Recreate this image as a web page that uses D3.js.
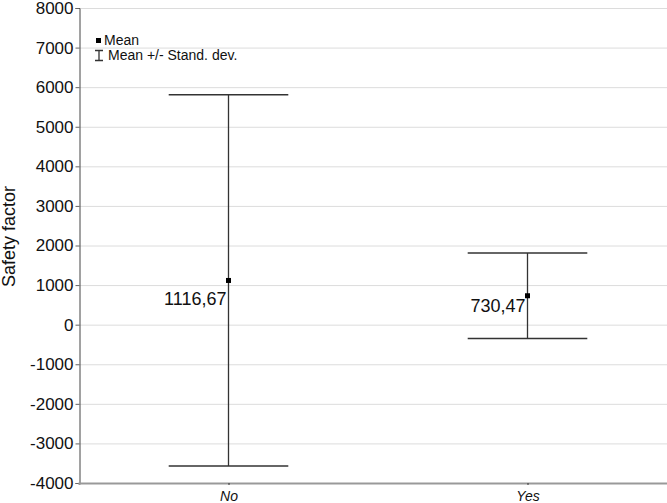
<!DOCTYPE html>
<html lang="en">
<head>
<meta charset="UTF-8">
<title>Safety factor</title>
<script src="https://cdn.jsdelivr.net/npm/d3@7"></script>
<style>
  body { margin: 0; background: #fff; }
  text { font-family: Arial, "Liberation Sans", sans-serif; }
</style>
</head>
<body>
<svg id="chart" width="667" height="503"></svg>
<script>
// data
const categories = ["No", "Yes"];
const means = [1116.67, 730.47];
const stdDevs = [4690, 1080];
const meanLabels = ["1116,67", "730,47"];
const yTicks = [-4000, -3000, -2000, -1000, 0, 1000, 2000, 3000, 4000, 5000, 6000, 7000, 8000];

const svg = d3.select("#chart");
const plotLeft = 79, plotTop = 8, plotBottom = 483, plotRight = 677;
const font = "Arial, 'Liberation Sans', sans-serif";

const x = d3.scalePoint().domain(categories).range([plotLeft, plotRight]).padding(0.5);
const y = d3.scaleLinear().domain([-4000, 8000]).range([plotBottom, plotTop]);
const capW = x.step() * 0.4;

// gridlines
svg.append("g").selectAll("line")
  .data(yTicks.filter(d => d > -4000))
  .join("line")
  .attr("x1", plotLeft).attr("x2", 667)
  .attr("y1", d => y(d) + 0.5).attr("y2", d => y(d) + 0.5)
  .attr("stroke", "#dcdcdc");

// y axis
const yAxis = svg.append("g")
  .attr("transform", `translate(${plotLeft + 0.5},0)`)
  .call(d3.axisLeft(y).tickValues(yTicks).tickSize(4).tickPadding(2).tickFormat(d => String(d)));
yAxis.select(".domain").attr("stroke", "#444");
yAxis.selectAll(".tick line").attr("stroke", "#666");
yAxis.selectAll(".tick text").attr("font-size", 17).attr("fill", "#111").attr("font-family", font);

// x axis
const xAxis = svg.append("g")
  .attr("transform", `translate(0,${plotBottom})`)
  .call(d3.axisBottom(x).tickSize(2).tickPadding(6));
xAxis.select(".domain").attr("stroke", "#999").attr("stroke-width", 2);
xAxis.selectAll(".tick line").attr("stroke", "#333");
xAxis.selectAll(".tick text").attr("font-size", 14).attr("font-style", "italic").attr("fill", "#111")
  .attr("font-family", font);

// y title
svg.append("text")
  .attr("transform", `translate(15,${(plotTop + plotBottom) / 2 - 9}) rotate(-90)`)
  .attr("text-anchor", "middle")
  .attr("font-size", 18)
  .attr("fill", "#111")
  .text("Safety factor");

// whiskers
const g = svg.append("g").selectAll("g")
  .data(categories.map((c, i) => ({ c, m: means[i], s: stdDevs[i], lab: meanLabels[i], i })))
  .join("g");

g.append("line")
  .attr("x1", d => x(d.c)).attr("x2", d => x(d.c))
  .attr("y1", d => y(d.m + d.s)).attr("y2", d => y(d.m - d.s))
  .attr("stroke", "#333").attr("stroke-width", 1.3);
g.append("line")
  .attr("x1", d => x(d.c) - capW / 2).attr("x2", d => x(d.c) + capW / 2)
  .attr("y1", d => y(d.m + d.s)).attr("y2", d => y(d.m + d.s))
  .attr("stroke", "#333").attr("stroke-width", 1.5);
g.append("line")
  .attr("x1", d => x(d.c) - capW / 2).attr("x2", d => x(d.c) + capW / 2)
  .attr("y1", d => y(d.m - d.s)).attr("y2", d => y(d.m - d.s))
  .attr("stroke", "#333").attr("stroke-width", 1.5);
g.append("rect")
  .attr("x", d => x(d.c) - 2.5).attr("y", d => y(d.m) - 2.5)
  .attr("width", 5).attr("height", 5)
  .attr("fill", "#000");

// mean labels
const labelDy = [25, 16];
g.append("text")
  .attr("x", d => x(d.c) - 2)
  .attr("y", d => y(d.m) + labelDy[d.i])
  .attr("text-anchor", "end")
  .attr("font-size", 18)
  .attr("fill", "#111")
  .text(d => d.lab);

// legend
const leg = svg.append("g");
leg.append("rect").attr("x", 96).attr("y", 38).attr("width", 5).attr("height", 5).attr("fill", "#000");
leg.append("text").attr("x", 104).attr("y", 45).attr("font-size", 14).attr("fill", "#111").text("Mean");
leg.append("path")
  .attr("d", "M95,50.5H103M99,50.5V60.5M95,60.5H103")
  .attr("stroke", "#333").attr("stroke-width", 1.3).attr("fill", "none");
leg.append("text").attr("x", 108).attr("y", 60).attr("font-size", 14).attr("fill", "#111").text("Mean +/- Stand. dev.");
</script>
</body>
</html>
